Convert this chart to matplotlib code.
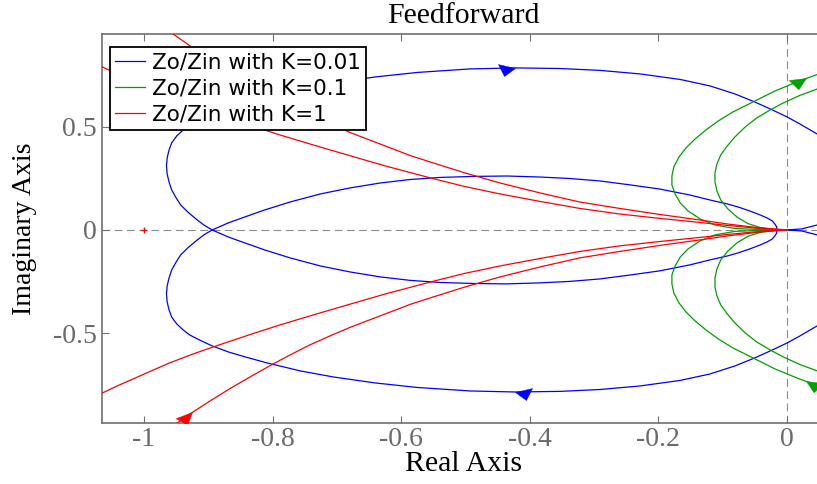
import numpy as np
import matplotlib
matplotlib.use("Agg")
import matplotlib.pyplot as plt
from matplotlib.path import Path
from matplotlib.markers import MarkerStyle

# Nyquist loci of Zo/Zin, upper-half samples (re, im); the lower half is the mirror image.
# K = 0.01: one branch, from the origin round the inner loop and back along the outer one
blue_re = [0.067, 0.047, 0.023, 0.0, -0.016, -0.016, -0.019, -0.023, -0.031, -0.042,
           -0.058, -0.076, -0.093, -0.120, -0.151, -0.198, -0.244, -0.291, -0.338, -0.384,
           -0.436, -0.488, -0.540, -0.586, -0.633, -0.680, -0.726, -0.773, -0.812, -0.843,
           -0.869, -0.894, -0.907, -0.919, -0.932, -0.943, -0.950, -0.957, -0.961, -0.964,
           -0.965, -0.964, -0.961, -0.957, -0.949, -0.939, -0.929, -0.914, -0.894, -0.869,
           -0.843, -0.809, -0.757, -0.706, -0.641, -0.575, -0.493, -0.423, -0.353, -0.291,
           -0.229, -0.166, -0.120, -0.081, -0.050, -0.023, 0.0, 0.020, 0.047, 0.082]
blue_im = [-0.039, -0.024, -0.005, 0.0, 0.0, 0.015, 0.029, 0.044, 0.058, 0.073,
           0.092, 0.111, 0.126, 0.145, 0.169, 0.198, 0.218, 0.237, 0.249, 0.256,
           0.261, 0.259, 0.254, 0.244, 0.227, 0.203, 0.174, 0.135, 0.097, 0.063,
           0.034, 0.0, -0.024, -0.053, -0.087, -0.121, -0.155, -0.194, -0.232, -0.271,
           -0.310, -0.348, -0.387, -0.421, -0.455, -0.484, -0.508, -0.532, -0.561, -0.590,
           -0.614, -0.643, -0.682, -0.711, -0.740, -0.762, -0.779, -0.784, -0.781, -0.772,
           -0.755, -0.728, -0.697, -0.658, -0.619, -0.581, -0.547, -0.513, -0.464, -0.392]
blue_arrow_re = -0.423

# K = 0.1: two arcs leaving the origin
green_outer_re = [0.0, -0.042, -0.081, -0.112, -0.135, -0.154, -0.166, -0.174, -0.179, -0.179,
                  -0.176, -0.168, -0.157, -0.143, -0.126, -0.107, -0.084, -0.053, -0.019, 0.017,
                  0.030, 0.047, 0.082]
green_outer_im = [0.0, 0.002, 0.007, 0.024, 0.053, 0.092, 0.131, 0.174, 0.218, 0.261,
                  0.305, 0.353, 0.397, 0.440, 0.484, 0.527, 0.571, 0.619, 0.672, 0.718,
                  0.733, 0.752, 0.789]
green_inner_re = [0.0, -0.019, -0.042, -0.061, -0.078, -0.092, -0.103, -0.109, -0.112, -0.112,
                  -0.109, -0.103, -0.093, -0.081, -0.065, -0.047, -0.026, -0.006, 0.020, 0.047,
                  0.082]
green_inner_im = [0.0, 0.002, 0.012, 0.031, 0.063, 0.102, 0.145, 0.189, 0.232, 0.276,
                  0.319, 0.363, 0.406, 0.450, 0.498, 0.542, 0.581, 0.614, 0.651, 0.682,
                  0.721]
green_arrow_re = 0.030

# K = 1: two arcs coming in from the far left
red_a_re = [-1.084, -1.065, -1.042, -1.017, -0.991, -0.960, -0.921, -0.879, -0.835, -0.789,
            -0.742, -0.695, -0.625, -0.555, -0.501, -0.446, -0.384, -0.322, -0.260, -0.198,
            -0.135, -0.093, -0.042, 0.0]
red_a_im = [0.813, 0.789, 0.755, 0.721, 0.685, 0.643, 0.597, 0.552, 0.506, 0.460,
            0.416, 0.373, 0.310, 0.252, 0.210, 0.174, 0.138, 0.104, 0.077, 0.056,
            0.036, 0.022, 0.007, 0.0]
red_b_re = [-0.975, -0.957, -0.925, -0.897, -0.866, -0.835, -0.799, -0.773, -0.742, -0.711,
            -0.680, -0.649, -0.617, -0.586, -0.555, -0.501, -0.446, -0.384, -0.322, -0.260,
            -0.198, -0.135, -0.093, -0.042, 0.0]
red_b_im = [0.997, 0.953, 0.883, 0.827, 0.767, 0.711, 0.648, 0.605, 0.556, 0.513,
            0.472, 0.435, 0.397, 0.360, 0.329, 0.276, 0.227, 0.179, 0.135, 0.104,
            0.075, 0.048, 0.029, 0.010, 0.0]
red_arrow_re = -0.925

critical_point = (-1, 0)

labels = ["Zo/Zin with K=0.01", "Zo/Zin with K=0.1", "Zo/Zin with K=1"]
xticks = [-1, -0.8, -0.6, -0.4, -0.2, 0]
xticklabels = ["-1", "-0.8", "-0.6", "-0.4", "-0.2", "0"]
yticks = [-0.5, 0, 0.5]
yticklabels = ["-0.5", "0", "0.5"]

BLUE = "#0000ff"
GREEN = "#00a000"
RED = "#ff0000"
GREY = "#707070"
SERIF = "Liberation Serif"


def arrow_at(ax, re, im, i, sign, color):
    '''Filled arrowhead with its tip on sample i, pointing along the curve.'''
    pts = ax.transData.transform(np.column_stack([re[i - 1:i + 2], im[i - 1:i + 2]]))
    u = (pts[2] - pts[0]) * sign
    u = u / np.hypot(*u)
    n = np.array([u[1], -u[0]])
    if n[1] > 0:
        n = -n
    verts = np.array([[0, 0], -17 * u - 4 * n, -11 * u + 8 * n, [0, 0]])
    size = 2 * np.abs(verts).max() * 0.72
    marker = MarkerStyle(Path(verts, [Path.MOVETO, Path.LINETO, Path.LINETO, Path.CLOSEPOLY]))
    ax.plot(re[i], im[i], marker=marker, ms=size, color=color, mew=0.3, zorder=4)


def plot_locus(ax, re, im, color, label=None):
    re = np.asarray(re)
    im = np.asarray(im)
    ax.plot(re, im, color=color, lw=0.9, label=label, zorder=3)
    ax.plot(re, -im, color=color, lw=0.9, zorder=3)
    return re, im


def main():
    fig = plt.figure(figsize=(8.17, 4.84), dpi=100)
    ax = fig.add_axes([102 / 817, 61 / 484, 723 / 817, 389 / 484])
    ax.set_xlim(-1.0653, 0.0591)
    ax.set_ylim(-0.934, 0.948)

    ax.axhline(0, color="#8c8c8c", lw=0.8, ls=(0, (7, 4)), zorder=1)
    ax.axvline(0, color="#8c8c8c", lw=0.8, ls=(0, (7, 4)), zorder=1)

    bre, bim = plot_locus(ax, blue_re, blue_im, BLUE, labels[0])
    gre, gim = plot_locus(ax, green_outer_re, green_outer_im, GREEN, labels[1])
    plot_locus(ax, green_inner_re, green_inner_im, GREEN)
    plot_locus(ax, red_a_re, red_a_im, RED, labels[2])
    rre, rim = plot_locus(ax, red_b_re, red_b_im, RED)

    ib = blue_re.index(blue_arrow_re)
    ig = green_outer_re.index(green_arrow_re)
    ir = red_b_re.index(red_arrow_re)
    arrow_at(ax, bre, -bim, ib, 1, BLUE)
    arrow_at(ax, bre, bim, ib, -1, BLUE)
    arrow_at(ax, gre, gim, ig, 1, GREEN)
    arrow_at(ax, gre, -gim, ig, -1, GREEN)
    arrow_at(ax, rre, rim, ir, -1, RED)
    arrow_at(ax, rre, -rim, ir, 1, RED)

    ax.plot(*critical_point, "+", color=RED, ms=5, mew=1, zorder=3)

    ax.set_xticks(xticks)
    ax.set_xticklabels(xticklabels)
    ax.set_yticks(yticks)
    ax.set_yticklabels(yticklabels)
    ax.tick_params(direction="in", length=5, width=0.8, color=GREY,
                   labelcolor="#6a6a6a", labelsize=20, top=True, right=False)
    ax.tick_params(axis="x", pad=3)
    ax.tick_params(axis="y", pad=4)
    for lab in ax.get_xticklabels() + ax.get_yticklabels():
        lab.set_family(SERIF)
    for side in ["left", "bottom", "top"]:
        ax.spines[side].set_color(GREY)
        ax.spines[side].set_linewidth(1.2)
    ax.spines["right"].set_visible(False)

    ax.set_xlabel("Real Axis", family=SERIF, fontsize=21.5)
    ax.set_ylabel("Imaginary Axis", family=SERIF, fontsize=20)
    ax.xaxis.set_label_coords(0.5, -0.072)
    ax.yaxis.set_label_coords(-0.090, 0.5)
    ax.set_title("Feedforward", family=SERIF, fontsize=21.5, pad=8)

    leg = ax.legend(loc="upper left", bbox_to_anchor=(0.011, 0.967),
                    borderaxespad=0, fancybox=False, framealpha=1,
                    prop={"family": "DejaVu Sans", "size": 15.5},
                    handlelength=1.4, handletextpad=0.3, labelspacing=0.28,
                    borderpad=0.25)
    leg.get_frame().set_edgecolor("black")
    leg.get_frame().set_linewidth(1.3)

    fig.savefig("out.png", dpi=100)


if __name__ == "__main__":
    main()
